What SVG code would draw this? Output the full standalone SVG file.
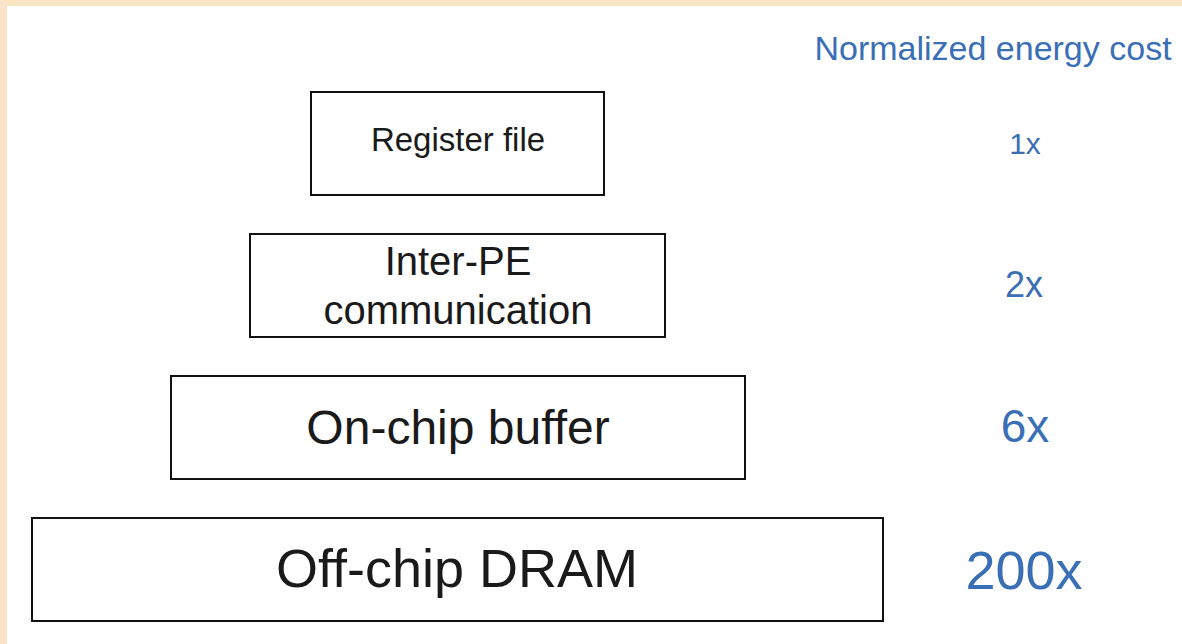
<svg xmlns="http://www.w3.org/2000/svg" width="1182" height="644" viewBox="0 0 1182 644">
  <style>
    .box { fill: #ffffff; stroke: #111111; stroke-width: 2; }
    .label { font-family: "Liberation Sans", Arial, sans-serif; fill: #1a1a1a; text-anchor: middle; }
    .cost { font-family: "Liberation Sans", Arial, sans-serif; fill: #3a6fb5; text-anchor: middle; }
  </style>
  <!-- page background and beige edge band -->
  <rect x="0" y="0" width="1182" height="644" fill="#ffffff"/>
  <rect x="0" y="0" width="1182" height="6" fill="#fae6c5"/>
  <rect x="0" y="0" width="7" height="644" fill="#fae3c7"/>

  <text class="cost" x="993" y="60" font-size="34">Normalized energy cost</text>

  <g id="register-file">
    <rect class="box" x="311" y="92" width="293" height="103"/>
    <text class="label" x="458" y="151" font-size="33">Register file</text>
  </g>
  <g id="inter-pe">
    <rect class="box" x="250" y="234" width="415" height="103"/>
    <text class="label" x="458" y="275" font-size="40">Inter-PE</text>
    <text class="label" x="458" y="324" font-size="40">communication</text>
  </g>
  <g id="on-chip-buffer">
    <rect class="box" x="171" y="376" width="574" height="103"/>
    <text class="label" x="458" y="444" font-size="48">On-chip buffer</text>
  </g>
  <g id="off-chip-dram">
    <rect class="box" x="32" y="518" width="851" height="103"/>
    <text class="label" x="457" y="587" font-size="54">Off-chip DRAM</text>
  </g>

  <g id="costs">
    <text class="cost" x="1025" y="154" font-size="30">1x</text>
    <text class="cost" x="1024" y="297" font-size="36">2x</text>
    <text class="cost" x="1025" y="442" font-size="46">6x</text>
    <text class="cost" x="1024" y="589" font-size="54">200x</text>
  </g>
  <g id="connectors"/>
</svg>
